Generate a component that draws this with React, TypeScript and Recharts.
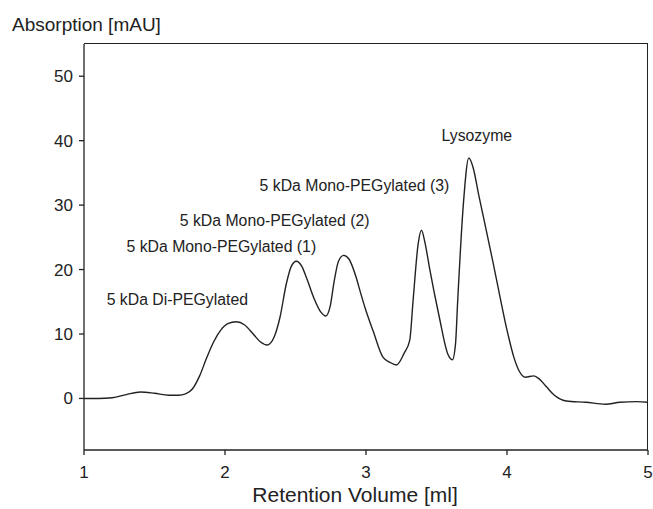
import React from 'react';
import { LineChart, Line, XAxis, YAxis, ReferenceDot } from 'recharts';

const volumes = [
  1.0, 1.1, 1.2, 1.3, 1.4, 1.5, 1.6, 1.67, 1.72, 1.77, 1.82, 1.87, 1.92, 1.97, 2.02, 2.08, 2.14, 2.2, 2.25, 2.3,
  2.35, 2.39, 2.435, 2.47, 2.506, 2.545, 2.58, 2.63, 2.68, 2.715, 2.745, 2.775, 2.805, 2.842, 2.88, 2.93, 2.96, 3.0,
  3.05, 3.12, 3.17, 3.216, 3.27, 3.31, 3.334, 3.37, 3.393, 3.42, 3.45, 3.52, 3.58, 3.613, 3.635, 3.65, 3.69,
  3.729, 3.76, 3.8, 3.85, 3.9, 3.95, 4.0, 4.05, 4.09, 4.13, 4.19, 4.23, 4.28, 4.33, 4.42, 4.56, 4.7, 4.8, 4.92, 5.0,
];
const absorption = [
  0, 0, 0.1, 0.6, 1.0, 0.8, 0.5, 0.5, 0.7, 1.5, 3.5, 6.3, 8.8, 10.6, 11.6, 11.9, 11.4, 10.0, 8.8, 8.3,
  9.6, 12.6, 17.8, 20.5, 21.3, 20.5, 18.6, 15.6, 13.4, 12.8, 14.2, 18.3, 21.3, 22.2, 21.6, 18.8, 16.5, 13.6,
  10.5, 6.4, 5.6, 5.2, 7.0, 9.0, 15.2, 24.0, 26.1, 24.0, 20.3, 12.6, 6.9, 6.0, 8.5, 15.0, 30.0,
  37.3, 35.8, 31.5, 26.4, 21.2, 15.8, 10.6, 6.3, 4.1, 3.3, 3.5, 3.0, 1.8, 0.6, -0.4, -0.6, -0.9, -0.6, -0.5, -0.6,
];

const xTicks = [1, 2, 3, 4, 5];
const yTicks = [0, 10, 20, 30, 40, 50];
const xDomain = [1, 5];
const yDomain = [-8, 55];

const annotationTexts = [
  '5 kDa Di-PEGylated',
  '5 kDa Mono-PEGylated (1)',
  '5 kDa Mono-PEGylated (2)',
  '5 kDa Mono-PEGylated (3)',
  'Lysozyme',
];
const annotationX = [1.662, 1.974, 2.352, 2.918, 3.786];
const annotationY = [15.4, 23.6, 27.7, 33.0, 40.8];

const data = volumes.map((v, i) => ({ v, a: absorption[i] }));

const FONT = '"Liberation Sans", Arial, Helvetica, sans-serif';
const INK = '#222222';

const CHART_W = 653;
const CHART_H = 509;
const M_TOP = 44;
const M_RIGHT = 5;
const Y_AXIS_W = 84;
const X_AXIS_H = 59;

const YTitle = (props: any) => {
  const vb = props.viewBox || { x: 0, y: M_TOP };
  return (
    <text x={12} y={vb.y - 13} fontFamily={FONT} fontSize={19} fill={INK} textAnchor="start">
      Absorption [mAU]
    </text>
  );
};

const XTitle = (props: any) => {
  const vb = props.viewBox || { x: Y_AXIS_W, y: CHART_H - X_AXIS_H, width: CHART_W - Y_AXIS_W - M_RIGHT };
  return (
    <text x={vb.x + vb.width / 2 - 11} y={502} fontFamily={FONT} fontSize={21} fill={INK} textAnchor="middle">
      Retention Volume [ml]
    </text>
  );
};

export default function App() {
  return (
    <div style={{ position: 'absolute', left: 0, top: 0, width: CHART_W, height: CHART_H, background: '#fff' }}>
      <LineChart width={CHART_W} height={CHART_H} data={data} margin={{ top: M_TOP, right: M_RIGHT, left: 0, bottom: 0 }}>
        <XAxis
          dataKey="v"
          type="number"
          domain={xDomain}
          ticks={xTicks}
          allowDataOverflow
          height={X_AXIS_H}
          stroke={INK}
          strokeWidth={1.3}
          tickSize={5}
          tickMargin={11}
          tick={{ fontFamily: FONT, fontSize: 17, fill: INK }}
          label={<XTitle />}
        />
        <YAxis
          type="number"
          domain={yDomain}
          ticks={yTicks}
          allowDataOverflow
          width={Y_AXIS_W}
          stroke={INK}
          strokeWidth={1.3}
          tickSize={5}
          tickMargin={6}
          tick={{ fontFamily: FONT, fontSize: 17, fill: INK }}
          label={<YTitle />}
        />
        <Line
          dataKey="a"
          type="monotone"
          stroke={INK}
          strokeWidth={1.4}
          dot={false}
          activeDot={false}
          isAnimationActive={false}
        />
        {annotationTexts.map((t, i) => (
          <ReferenceDot
            key={t}
            x={annotationX[i]}
            y={annotationY[i]}
            r={0}
            fill="none"
            stroke="none"
            ifOverflow="visible"
            label={{ value: t, position: 'center', fontFamily: FONT, fontSize: 15.8, fill: INK }}
          />
        ))}
      </LineChart>
      <div
        style={{
          position: 'absolute',
          left: Y_AXIS_W,
          top: M_TOP - 1,
          width: CHART_W - Y_AXIS_W - M_RIGHT,
          height: CHART_H - M_TOP - X_AXIS_H + 1,
          borderTop: `1.5px solid ${INK}`,
          borderRight: `1.5px solid ${INK}`,
          boxSizing: 'border-box',
          pointerEvents: 'none',
        }}
      />
    </div>
  );
}
